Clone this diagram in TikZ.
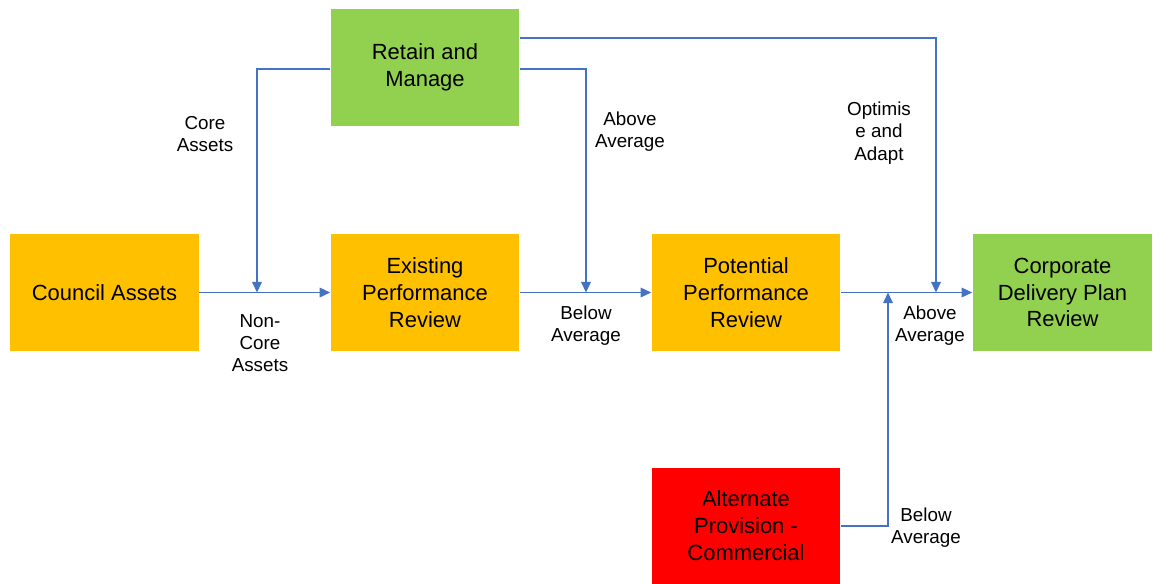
\documentclass[tikz,border=0pt]{standalone}
\usepackage{fontspec}
\setmainfont{Liberation Sans}
\usetikzlibrary{arrows.meta}
\definecolor{boxorange}{HTML}{FFC000}
\definecolor{boxgreen}{HTML}{92D050}
\definecolor{boxred}{HTML}{FF0000}
\definecolor{linkblue}{HTML}{4472C4}

\begin{document}
\begin{tikzpicture}[x=0.02cm, y=-0.02cm,
    stage/.style={minimum width=3.78cm, minimum height=2.34cm, align=center,
        font=\fontsize{12.5}{15.3}\selectfont, inner sep=2pt},
    link/.style={draw=linkblue, line width=0.7pt, -{Triangle[length=6pt,width=5.5pt]}},
    tag/.style={align=center, font=\fontsize{10.7}{12.6}\selectfont}]
    \useasboundingbox (0,0) rectangle (1153,583);

    % Boxes
    \node[stage, fill=boxorange] (council) at (104.5,292.5) {Council Assets};
    \node[stage, fill=boxorange] (existing) at (425,292.5) {Existing\\Performance\\Review};
    \node[stage, fill=boxorange] (potential) at (746,292.5) {Potential\\Performance\\Review};
    \node[stage, fill=boxgreen, minimum width=3.6cm] (corporate) at (1062.5,292.5) {Corporate\\Delivery Plan\\Review};
    \node[stage, fill=boxgreen] (retain) at (425,67.5) {Retain and\\Manage};
    \node[stage, fill=boxred] (alternate) at (746,526) {Alternate\\Provision -\\Commercial};

    % Junctions on the main line
    \coordinate (noncore) at (257,292.5);
    \coordinate (belowmid) at (586,292.5);
    \coordinate (optim) at (936,292.5);
    \coordinate (aboveright) at (888,292.5);

    % Main line
    \draw[link] (council) -- (existing);
    \draw[link] (existing) -- (potential);
    \draw[link] (potential) -- (corporate);

    % From Retain and Manage
    \draw[link] ([yshift=-0.03cm]retain.west) -| (noncore);
    \draw[link] ([yshift=-0.03cm]retain.east) -| (belowmid);
    \draw[link] ([yshift=0.59cm]retain.east) -| (optim);

    % From Alternate Provision
    \draw[link] (alternate.east) -| (aboveright);

    % Labels
    \node[tag] (coreassets) at (205,134) {Core\\Assets};
    \node[tag] (noncoreassets) at (260,343) {Non-\\Core\\Assets};
    \node[tag] (aboveavg) at (630,132) {Above\\Average};
    \node[tag] (belowavg) at (586,326) {Below\\Average};
    \node[tag] (optimise) at (879,133) {Optimis\\e and\\Adapt};
    \node[tag] (aboveavgright) at (930,326) {Above\\Average};
    \node[tag] (belowavgalt) at (926,528) {Below\\Average};
\end{tikzpicture}
\end{document}
